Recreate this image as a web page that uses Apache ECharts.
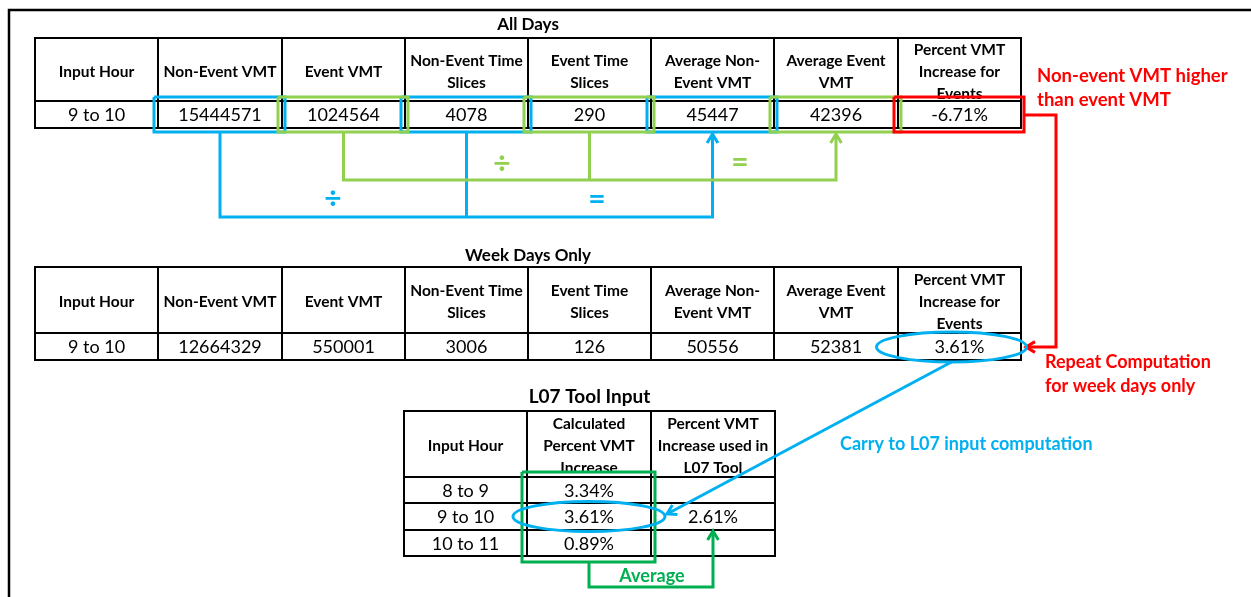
<!DOCTYPE html>
<html>
<head>
<meta charset="utf-8">
<script src="https://cdn.jsdelivr.net/npm/echarts@6/dist/echarts.min.js"></script>
<style>
html,body{margin:0;padding:0;background:#fff}
#chart{width:1251px;height:597px}
</style>
</head>
<body>
<div id="chart"></div>
<script>
// 表格数据
var allDaysHeaders = ['Input Hour', 'Non-Event VMT', 'Event VMT', 'Non-Event Time\nSlices', 'Event Time\nSlices',
    'Average Non-\nEvent VMT', 'Average Event\nVMT', 'Percent VMT\nIncrease for\nEvents'];
var allDaysValues = ['9 to 10', 15444571, 1024564, 4078, 290, 45447, 42396, '-6.71%'];
var weekDaysValues = ['9 to 10', 12664329, 550001, 3006, 126, 50556, 52381, '3.61%'];
var l07Headers = ['Input Hour', 'Calculated\nPercent VMT\nIncrease', 'Percent VMT\nIncrease used in\nL07 Tool'];
var l07Hours = ['8 to 9', '9 to 10', '10 to 11'];
var l07Calculated = ['3.34%', '3.61%', '0.89%'];
var l07Used = ['', '2.61%', ''];

(function(){
    var FONT = 'Lato, "Liberation Sans", sans-serif';
    var BLUE = '#00b0f0', GREEN = '#92d050', DKGREEN = '#00b050', RED = '#ff0000';

    // 表格布局（坐标轴单位 = 像素）
    var bigCols = [35, 158, 282, 405, 528, 651, 774, 898, 1021];
    var l07Rows = [l07Headers];
    l07Hours.forEach(function(h, i){ l07Rows.push([h, l07Calculated[i], l07Used[i]]); });
    var tables = [
        {title: 'All Days', titleY: 25, titleSize: 17, x: bigCols, y: [38, 101, 128], rows: [allDaysHeaders, allDaysValues]},
        {title: 'Week Days Only', titleY: 256, titleSize: 17, x: bigCols, y: [267, 333, 360], rows: [allDaysHeaders, weekDaysValues]},
        {title: 'L07 Tool Input', titleY: 397, titleSize: 19, x: [404, 527, 651, 775], y: [411, 477, 503, 530, 556], rows: l07Rows}
    ];
    function colCenter(t, c){ return (t.x[c] + t.x[c + 1]) / 2; }

    var cellData = [];
    tables.forEach(function(t, ti){
        t.rows.forEach(function(row, ri){
            row.forEach(function(v, ci){ cellData.push([ti, ri, ci]); });
        });
    });

    function renderCell(params, api){
        var t = tables[api.value(0)], r = api.value(1), c = api.value(2);
        var p0 = api.coord([t.x[c], t.y[r]]), p1 = api.coord([t.x[c + 1], t.y[r + 1]]);
        var header = r === 0;
        return {
            type: 'group',
            children: [
                {type: 'rect', shape: {x: p0[0], y: p0[1], width: p1[0] - p0[0], height: p1[1] - p0[1]},
                    style: {fill: '#fff', stroke: '#000', lineWidth: 2}},
                {type: 'text', x: (p0[0] + p1[0]) / 2, y: (p0[1] + p1[1]) / 2 + (header ? 2 : 1),
                    style: {text: String(t.rows[r][c]), align: 'center', verticalAlign: 'middle',
                        fontFamily: FONT, fontSize: header ? 15.5 : 18, fontWeight: header ? 'bold' : 'normal',
                        lineHeight: 22, fill: '#000'}}
            ]
        };
    }

    function renderTitle(params, api){
        var t = tables[api.value(0)];
        var p = api.coord([(t.x[0] + t.x[t.x.length - 1]) / 2, t.titleY]);
        return {type: 'text', x: p[0], y: p[1],
            style: {text: t.title, align: 'center', verticalAlign: 'middle', fontFamily: FONT,
                fontSize: t.titleSize, fontWeight: 'bold', fill: '#000'}};
    }

    // 标注：连线、框、椭圆、文字
    function renderNotes(params, api){
        var kids = [];
        function pt(x, y){ return api.coord([x, y]); }
        function line(points, color, w){
            kids.push({type: 'polyline', shape: {points: points.map(function(p){ return pt(p[0], p[1]); })},
                style: {fill: null, stroke: color, lineWidth: w || 3}});
        }
        function arrow(tip, from, color){
            var dx = tip[0] - from[0], dy = tip[1] - from[1], len = Math.sqrt(dx * dx + dy * dy);
            var ux = dx / len, uy = dy / len, s = 9, k = 0.6;
            line([[tip[0] - s * ux - s * k * uy, tip[1] - s * uy + s * k * ux], tip,
                [tip[0] - s * ux + s * k * uy, tip[1] - s * uy - s * k * ux]], color);
        }
        function box(x0, y0, x1, y1, color){
            line([[x0, y0], [x1, y0], [x1, y1], [x0, y1], [x0, y0]], color);
        }
        function ellipse(cx, cy, rx, ry, color){
            var c = pt(cx, cy), e = pt(cx + rx, cy + ry);
            kids.push({type: 'ellipse', shape: {cx: c[0], cy: c[1], rx: e[0] - c[0], ry: e[1] - c[1]},
                style: {fill: null, stroke: color, lineWidth: 3}});
        }
        function label(x, y, text, color, size, align, lh){
            var p = pt(x, y);
            kids.push({type: 'text', x: p[0], y: p[1], style: {text: text, fill: color, fontFamily: FONT,
                fontSize: size, fontWeight: 'bold', align: align || 'center', verticalAlign: 'middle', lineHeight: lh || 24}});
        }

        // 外框
        line([[9, 597], [9, 10], [1251, 10]], '#000', 2.5);

        var a = tables[0], w = tables[1], l = tables[2];
        var top = a.y[1] - 4, bot = a.y[2] + 4;
        [1, 3, 5].forEach(function(c){ box(a.x[c] - 4, top, a.x[c + 1] + 3, bot, BLUE); });
        [2, 4, 6].forEach(function(c){ box(a.x[c] - 4, top, a.x[c + 1] + 3, bot, GREEN); });
        box(a.x[7] - 4, top, a.x[8] + 3, bot, RED);

        // ÷ 和 = 连线
        var c1 = colCenter(a, 1), c2 = colCenter(a, 2), c3 = colCenter(a, 3),
            c4 = colCenter(a, 4), c5 = colCenter(a, 5), c6 = colCenter(a, 6);
        line([[c1, bot], [c1, 217], [c5, 217], [c5, bot + 2]], BLUE);
        line([[c3, bot], [c3, 217]], BLUE);
        arrow([c5, bot + 2], [c5, 217], BLUE);
        line([[c2, bot], [c2, 180], [c6, 180], [c6, bot + 2]], GREEN);
        line([[c4, bot], [c4, 180]], GREEN);
        arrow([c6, bot + 2], [c6, 180], GREEN);
        label(333, 199, '÷', BLUE, 30);
        label(597, 199, '=', BLUE, 30);
        label(502, 164, '÷', GREEN, 30);
        label(740, 162, '=', GREEN, 30);

        // 红色：重复计算
        line([[a.x[8] + 3, 115], [1056, 115], [1056, 347], [w.x[8] + 5, 347]], RED);
        arrow([w.x[8] + 5, 347], [1056, 347], RED);
        label(1037, 88, 'Non-event VMT higher\nthan event VMT', RED, 18.5, 'left');
        label(1045, 374, 'Repeat Computation\nfor week days only', RED, 18, 'left');

        // 蓝色：带入 L07
        ellipse(colCenter(w, 7) - 8, 347, 75, 15, BLUE);
        line([[colCenter(w, 7) - 8, 362], [667, 514]], BLUE);
        arrow([667, 514], [colCenter(w, 7) - 8, 362], BLUE);
        label(840, 444, 'Carry to L07 input computation', BLUE, 18, 'left');

        // L07 平均
        var lc = colCenter(l, 1), rc = colCenter(l, 2);
        box(l.x[1] - 5, l.y[1] - 5, l.x[2] + 4, l.y[4] + 6, DKGREEN);
        line([[lc, l.y[4] + 6], [lc, 587], [rc, 587], [rc, l.y[3] + 1]], DKGREEN);
        arrow([rc, l.y[3] + 1], [rc, 587], DKGREEN);
        label(652, 576, 'Average', DKGREEN, 18);
        ellipse(lc, (l.y[2] + l.y[3]) / 2, 76, 15, BLUE);

        return {type: 'group', children: kids};
    }

    var myChart = echarts.init(document.getElementById('chart'));
    var option = {
        animation: false,
        backgroundColor: '#fff',
        grid: {left: 0, right: 0, top: 0, bottom: 0},
        xAxis: {type: 'value', min: 0, max: 1251, show: false},
        yAxis: {type: 'value', min: 0, max: 597, inverse: true, show: false},
        series: [
            {type: 'custom', renderItem: renderTitle, data: [[0], [1], [2]], clip: false, silent: true},
            {type: 'custom', renderItem: renderCell, data: cellData, clip: false, silent: true},
            {type: 'custom', renderItem: renderNotes, data: [[0]], clip: false, silent: true}
        ]
    };
    myChart.setOption(option);
})();
</script>
</body>
</html>
